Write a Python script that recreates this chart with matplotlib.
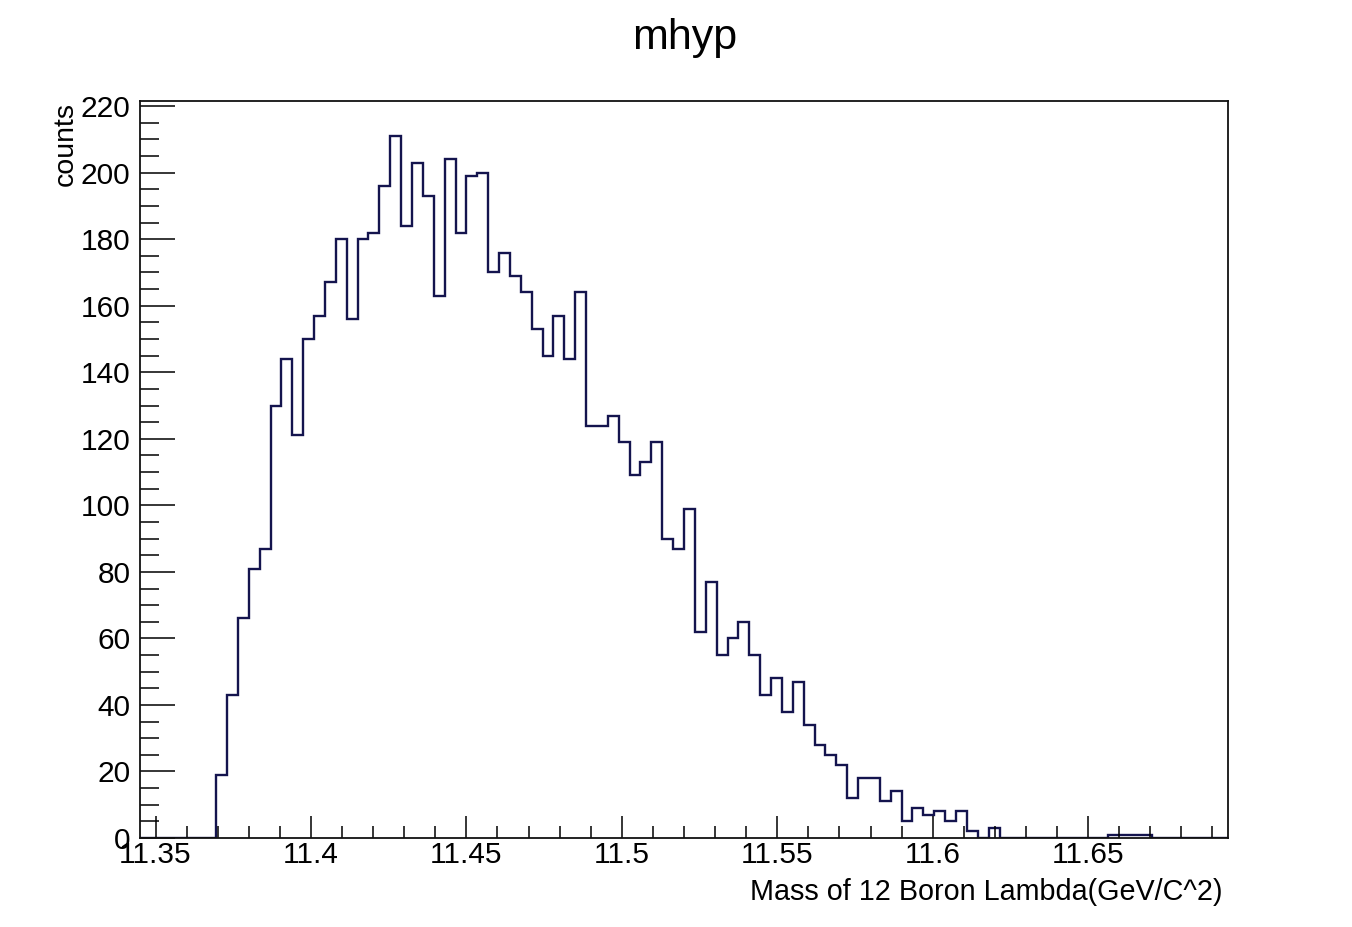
import numpy as np
import matplotlib
matplotlib.use('Agg')
import matplotlib.pyplot as plt
from matplotlib.ticker import MultipleLocator

#------------------------------------------------------------------------------
# histogram of the reconstructed hypernucleus mass, 100 bins
x_min, x_max, n_bins = 11.345, 11.695, 100

counts = [0, 0, 0, 0, 0, 0, 0,
          19, 43, 66, 81, 87, 130, 144, 121, 150, 157,
          167, 180, 156, 180, 182, 196, 211, 184, 203, 193,
          163, 204, 182, 199, 200, 170, 176, 169, 164, 153,
          145, 157, 144, 164, 124, 124, 127, 119, 109, 113,
          119, 90, 87, 99, 62, 77, 55, 60, 65, 55,
          43, 48, 38, 47, 34, 28, 25, 22, 12, 18,
          18, 11, 14, 5, 9, 7, 8, 5, 8, 2,
          0, 3, 0, 0, 0, 0, 0, 0, 0, 0,
          0, 0, 1, 1, 1, 1, 0, 0, 0, 0, 0, 0, 0]

title = 'mhyp'
x_title = 'Mass of 12 Boron Lambda(GeV/C^2)'
y_title = 'counts'

plt.rcParams['font.family'] = ['Liberation Sans', 'DejaVu Sans']

#------------------------------------------------------------------------------
figure = plt.figure(figsize=(13.52, 9.27), dpi=100)
ax = figure.add_axes([140/1352, 89/927, 1088/1352, 737/927])

edges = np.linspace(x_min, x_max, n_bins + 1)
ax.stairs(counts, edges, baseline=0, color='#14144e', linewidth=1.7)

ax.set_xlim(x_min, x_max)
ax.set_ylim(0, max(counts) * 1.05)

#ticks inside the frame, only on bottom and left
ax.xaxis.set_major_locator(MultipleLocator(0.05))
ax.xaxis.set_minor_locator(MultipleLocator(0.01))
ax.yaxis.set_major_locator(MultipleLocator(20))
ax.yaxis.set_minor_locator(MultipleLocator(5))
ax.xaxis.set_major_formatter(matplotlib.ticker.FuncFormatter(lambda v, p: ('%g' % round(v, 3))))

ax.tick_params(axis='x', which='major', direction='in', length=16, width=1.1,
               labelsize=21.5, pad=2)
ax.tick_params(axis='x', which='minor', direction='in', length=9, width=1.1)
ax.tick_params(axis='y', which='major', direction='in', length=25, width=1.1,
               labelsize=21.5, pad=7)
ax.tick_params(axis='y', which='minor', direction='in', length=14, width=1.1)

for spine in ax.spines.values():
    spine.set_linewidth(1.3)
    spine.set_color('#111111')

#titles placed like a ROOT canvas
figure.text(685/1352, 1 - 49/927, title, ha='center', va='baseline', fontsize=31)
figure.text(1223/1352, 1 - 900/927, x_title, ha='right', va='baseline', fontsize=20.7)
figure.text(66/1352, 1 - 102/927, y_title, rotation=90, ha='center', va='top', fontsize=20.5)

figure.savefig('out.png', dpi=100)
plt.close()
